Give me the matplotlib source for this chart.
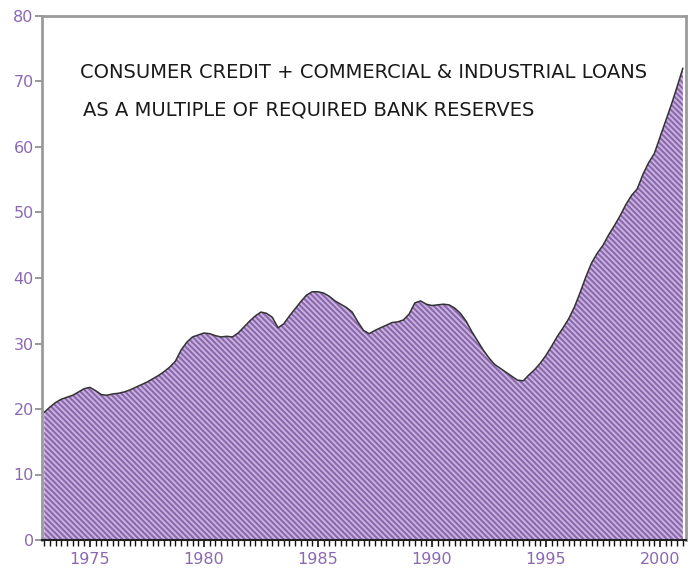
import numpy as np
import matplotlib
matplotlib.use("Agg")
import matplotlib.pyplot as plt
from matplotlib.ticker import MultipleLocator

# Quarterly observations, 1973.00 .. 2001.00
start_year = 1973.0
step = 0.25
ratio = [
    19.5, 20.3, 21.0, 21.5,   # 1973
    21.8, 22.1, 22.6, 23.1,   # 1974
    23.3, 22.8, 22.2, 22.1,   # 1975
    22.3, 22.4, 22.6, 22.9,   # 1976
    23.3, 23.7, 24.1, 24.6,   # 1977
    25.1, 25.7, 26.4, 27.3,   # 1978
    29.0, 30.2, 31.0, 31.3,   # 1979
    31.6, 31.5, 31.2, 31.0,   # 1980
    31.1, 31.0, 31.6, 32.5,   # 1981
    33.4, 34.2, 34.8, 34.6,   # 1982
    34.0, 32.4, 33.0, 34.2,   # 1983
    35.3, 36.4, 37.4, 37.9,   # 1984
    37.9, 37.7, 37.2, 36.5,   # 1985
    36.0, 35.5, 34.8, 33.3,   # 1986
    32.0, 31.5, 32.0, 32.4,   # 1987
    32.8, 33.2, 33.3, 33.6,   # 1988
    34.5, 36.2, 36.5, 36.0,   # 1989
    35.8, 35.9, 36.0, 35.9,   # 1990
    35.4, 34.6, 33.4, 31.8,   # 1991
    30.4, 29.0, 27.8, 26.8,   # 1992
    26.2, 25.6, 25.0, 24.4,   # 1993
    24.3, 25.2, 26.0, 27.0,   # 1994
    28.2, 29.6, 31.1, 32.4,   # 1995
    33.8, 35.6, 37.8, 40.2,   # 1996
    42.3, 43.8, 45.0, 46.6,   # 1997
    48.0, 49.5, 51.2, 52.6,   # 1998
    53.6, 55.8, 57.6, 59.0,   # 1999
    61.5, 64.0, 66.5, 69.2,   # 2000
    72.0,                     # 2001
]
years = start_year + step * np.arange(len(ratio))

x_tick_labels = ["1975", "1980", "1985", "1990", "1995", "2000"]
x_tick_pos = [1975, 1980, 1985, 1990, 1995, 2000]
y_ticks = [0, 10, 20, 30, 40, 50, 60, 70, 80]
title_lines = ["CONSUMER CREDIT + COMMERCIAL & INDUSTRIAL LOANS",
               "AS A MULTIPLE OF REQUIRED BANK RESERVES"]

plt.rcParams['font.family'] = ['DejaVu Sans']
plt.rcParams['hatch.color'] = '#8a68ab'
plt.rcParams['hatch.linewidth'] = 1.5

fig = plt.figure(figsize=(6.98, 5.69), dpi=100)
ax = fig.add_axes([42/698, 1 - 540/569, (686-42)/698, (540-16)/569])

ax.fill_between(years, 0, ratio, facecolor='#cbb4e3', edgecolor='#8a68ab',
                hatch='\\\\\\\\\\\\', linewidth=0)
ax.plot(years, ratio, color='#333333', lw=1.1)

ax.set_xlim(1972.9, 2001.14)
ax.set_ylim(0, 80)

ax.set_xticks(x_tick_pos)
ax.set_xticklabels(x_tick_labels)
ax.xaxis.set_minor_locator(MultipleLocator(0.25))
ax.set_yticks(y_ticks)

lab_color = '#8b68b2'
ax.tick_params(axis='y', direction='out', length=5, width=1.2, color='#888888',
               labelcolor=lab_color, labelsize=11.5, pad=1)
ax.tick_params(axis='x', which='major', direction='out', length=5, width=1.2,
               color='#111111', labelcolor=lab_color, labelsize=11.5, pad=4)
ax.tick_params(axis='x', which='minor', direction='out', length=4, width=1.0,
               color='#111111')

for side in ['top', 'left', 'right']:
    ax.spines[side].set_color('#9a9a9a')
    ax.spines[side].set_linewidth(2)
ax.spines['bottom'].set_color('#222222')
ax.spines['bottom'].set_linewidth(1.5)

ax.text(0.059, 0.893, title_lines[0], transform=ax.transAxes, fontsize=14,
        color='#1a1a1a', ha='left', va='center')
ax.text(0.064, 0.821, title_lines[1], transform=ax.transAxes, fontsize=14,
        color='#1a1a1a', ha='left', va='center')

fig.savefig('out.png', dpi=100)
